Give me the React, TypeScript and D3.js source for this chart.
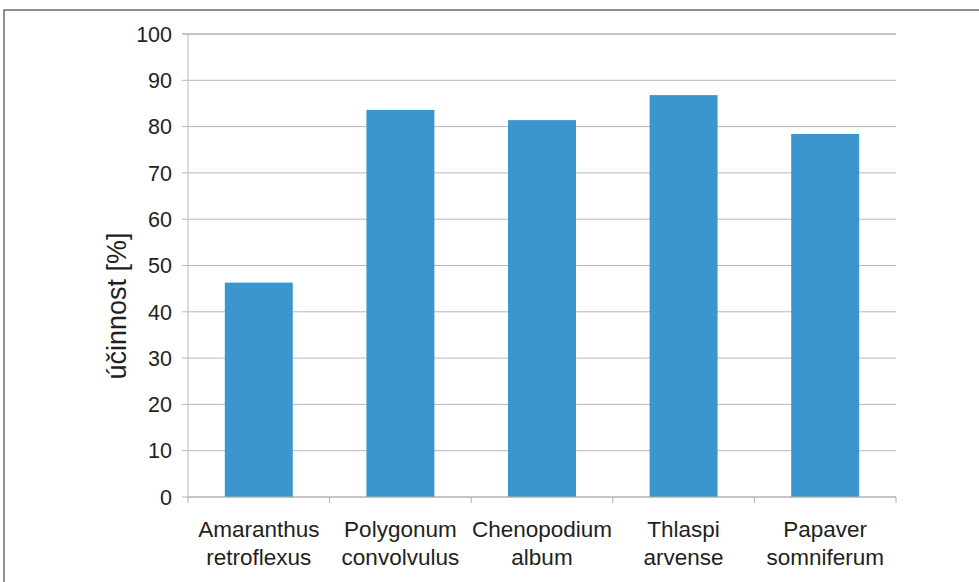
import React from "react";
import * as d3 from "d3";

const categories: string[][] = [
  ["Amaranthus", "retroflexus"],
  ["Polygonum", "convolvulus"],
  ["Chenopodium", "album"],
  ["Thlaspi", "arvense"],
  ["Papaver", "somniferum"],
];
const values: number[] = [46.3, 83.6, 81.4, 86.8, 78.4];
const yTicks: number[] = [0, 10, 20, 30, 40, 50, 60, 70, 80, 90, 100];
const yLabel = "účinnost [%]";

export default function App() {
  const W = 979, H = 582;
  const left = 188, right = 896, top = 34, bottom = 497;
  const y = d3.scaleLinear().domain([0, 100]).range([bottom, top]);
  const x = d3
    .scaleBand<number>()
    .domain(categories.map((_, i) => i))
    .range([left, right])
    .paddingInner(0)
    .paddingOuter(0);
  const bw = x.bandwidth();
  const barW = bw * 0.48;
  const font = "'Liberation Sans', Arial, Helvetica, sans-serif";
  const textColor = "#231f20";
  return (
    <svg
      width={W}
      height={H}
      style={{ position: "absolute", left: 0, top: 0, background: "#fff" }}
      fontFamily={font}
    >
      <rect x={4} y={10} width={W + 10} height={H + 10} fill="none" stroke="#555" strokeWidth={1.3} />
      {yTicks.map((t) => (
        <g key={t}>
          <line
            x1={left - 6}
            x2={right}
            y1={y(t)}
            y2={y(t)}
            stroke={t === 100 ? "#8a8a8a" : "#b8b8b8"}
            strokeWidth={1}
          />
          <text
            x={left - 16}
            y={y(t)}
            dy="0.36em"
            textAnchor="end"
            fontSize={21.5}
            fill={textColor}
          >
            {t}
          </text>
        </g>
      ))}
      <line x1={left} x2={left} y1={top} y2={bottom} stroke="#b8b8b8" />
      {values.map((v, i) => (
        <rect
          key={i}
          x={(x(i) as number) + (bw - barW) / 2}
          y={y(v)}
          width={barW}
          height={bottom - y(v)}
          fill="#3a96cc"
        />
      ))}
      <line x1={left} x2={right} y1={bottom} y2={bottom} stroke="#b0b0b0" strokeWidth={1.2} />
      {d3.range(categories.length + 1).map((i) => (
        <line
          key={i}
          x1={left + i * bw}
          x2={left + i * bw}
          y1={bottom}
          y2={bottom + 6}
          stroke="#b0b0b0"
        />
      ))}
      {categories.map((c, i) => (
        <text
          key={i}
          x={(x(i) as number) + bw / 2}
          textAnchor="middle"
          fontSize={22.5}
          fill={textColor}
        >
          <tspan x={(x(i) as number) + bw / 2} y={537}>{c[0]}</tspan>
          <tspan x={(x(i) as number) + bw / 2} y={565}>{c[1]}</tspan>
        </text>
      ))}
      <text
        transform={`translate(126, 306) rotate(-90)`}
        textAnchor="middle"
        fontSize={27}
        fill={textColor}
      >
        {yLabel}
      </text>
    </svg>
  );
}
